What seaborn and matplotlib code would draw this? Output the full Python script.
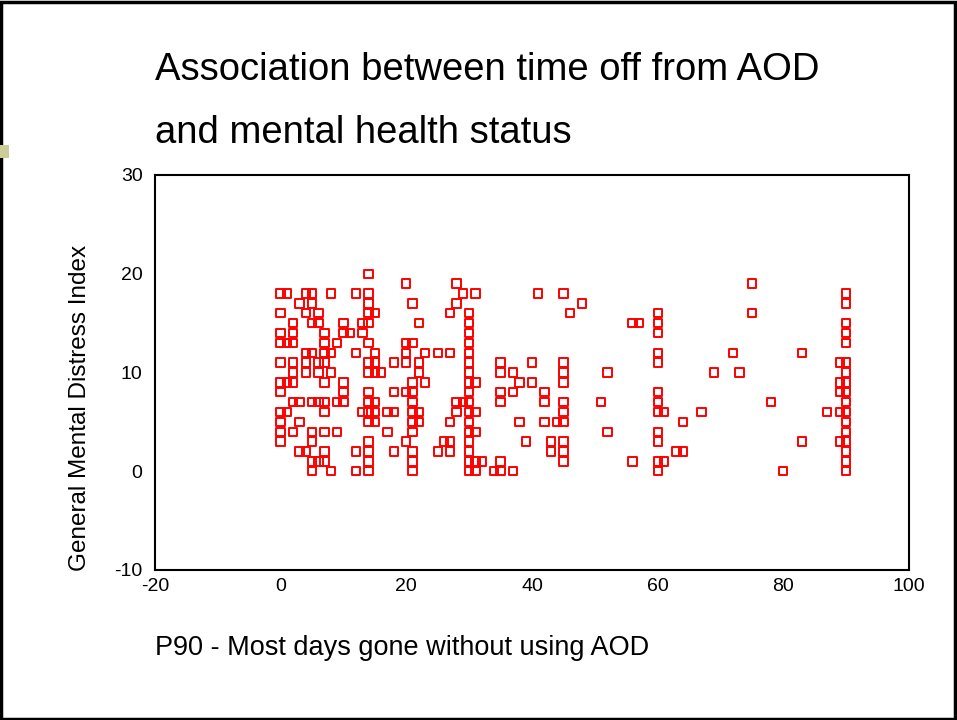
import matplotlib
matplotlib.use("Agg")
import matplotlib.pyplot as plt
import seaborn as sns
import pandas as pd
from matplotlib.patches import Rectangle

# Data: x values (days) grouped by General Mental Distress Index value
gmdi_levels = [20, 19, 18, 17, 16, 15, 14, 13, 12, 11, 10, 9, 8, 7, 6, 5, 4, 3, 2, 1, 0]
days_by_level = [
    [14],
    [20, 28, 75],
    [0, 1, 4, 5, 8, 12, 14, 29, 31, 41, 45, 90],
    [3, 5, 14, 21, 28, 48, 90],
    [0, 4, 6, 14, 15, 27, 30, 46, 60, 75],
    [2, 5, 6, 10, 13, 14, 22, 30, 56, 57, 60, 90],
    [0, 2, 7, 10, 11, 13, 30, 60, 90],
    [0, 1, 2, 7, 9, 14, 20, 21, 30, 90],
    [4, 5, 7, 8, 12, 15, 20, 23, 25, 27, 30, 60, 72, 83],
    [0, 2, 4, 6, 7, 14, 15, 18, 20, 22, 30, 35, 40, 45, 60, 89, 90],
    [2, 4, 6, 8, 14, 15, 16, 22, 30, 35, 37, 45, 52, 69, 73, 90],
    [0, 1, 2, 7, 10, 21, 23, 30, 31, 38, 40, 45, 89, 90],
    [0, 10, 14, 18, 20, 21, 30, 35, 37, 42, 60, 89, 90],
    [2, 3, 5, 6, 7, 9, 10, 14, 15, 21, 28, 29, 30, 35, 42, 45, 51, 60, 78, 90],
    [0, 1, 7, 13, 14, 15, 17, 18, 21, 22, 28, 30, 31, 45, 60, 61, 67, 87, 89, 90],
    [0, 3, 14, 15, 21, 22, 27, 30, 38, 42, 44, 45, 64, 90],
    [0, 2, 5, 7, 9, 17, 21, 30, 31, 52, 60, 90],
    [0, 5, 14, 20, 26, 27, 30, 39, 43, 45, 60, 83, 89, 90],
    [3, 4, 7, 12, 14, 18, 21, 25, 27, 30, 43, 45, 63, 64, 90],
    [5, 6, 7, 14, 21, 30, 31, 32, 35, 45, 56, 60, 61, 90],
    [5, 8, 12, 14, 21, 30, 31, 34, 35, 37, 60, 80, 90],
]
x_ticks = [-20, 0, 20, 40, 60, 80, 100]
y_ticks = [-10, 0, 10, 20, 30]

title_lines = ["Association between time off from AOD", "and mental health status"]
x_label = "P90 - Most days gone without using AOD"
y_label = "General Mental Distress Index"

rows = []
for lvl, days in zip(gmdi_levels, days_by_level):
    for d in days:
        rows.append({"days": d, "gmdi": lvl})
df = pd.DataFrame(rows)

sns.set_theme(style="white")
plt.rcParams["font.family"] = ["Liberation Sans", "DejaVu Sans"]
plt.rcParams["axes.unicode_minus"] = False
plt.rcParams["text.color"] = "black"

fig = plt.figure(figsize=(9.57, 7.2), dpi=100)
ax = fig.add_axes([155 / 957, 1 - 570 / 720, (909 - 155) / 957, (570 - 175) / 720])

sns.scatterplot(data=df, x="days", y="gmdi", ax=ax, marker="s", s=36,
                facecolor="none", edgecolor="#ff0000", linewidth=1.4, legend=False)

ax.set_xlim(-20, 100)
ax.set_ylim(-10, 30)
ax.set_xticks(x_ticks)
ax.set_yticks(y_ticks)
ax.set_xlabel("")
ax.set_ylabel("")
for s in ax.spines.values():
    s.set_visible(True)
    s.set_color("black")
    s.set_linewidth(1.5)
ax.tick_params(axis="both", which="both", direction="out", length=3, width=3,
               color="black", labelsize=14, labelcolor="black")
ax.tick_params(axis="y", pad=6)
ax.tick_params(axis="x", pad=3)

fig.text(155 / 957, 1 - 70 / 720, title_lines[0], fontsize=27.5, va="center", ha="left", color="black")
fig.text(155 / 957, 1 - 133 / 720, title_lines[1], fontsize=27.5, va="center", ha="left", color="black")
fig.text(155 / 957, 1 - 648 / 720, x_label, fontsize=19.5, va="center", ha="left", color="black")
fig.text(80 / 957, 1 - 408 / 720, y_label, fontsize=17.5, va="center", ha="center", rotation=90, color="black")

# Slide frame and decorative square
fig.patches.append(Rectangle((0.001, 0.001), 0.997, 0.996, transform=fig.transFigure,
                             fill=False, edgecolor="black", linewidth=2.5))
fig.patches.append(Rectangle((0, 1 - 158 / 720), 9 / 957, 13 / 720, transform=fig.transFigure,
                             facecolor="#cccc99", edgecolor="none"))

fig.savefig("out.png", dpi=100)
